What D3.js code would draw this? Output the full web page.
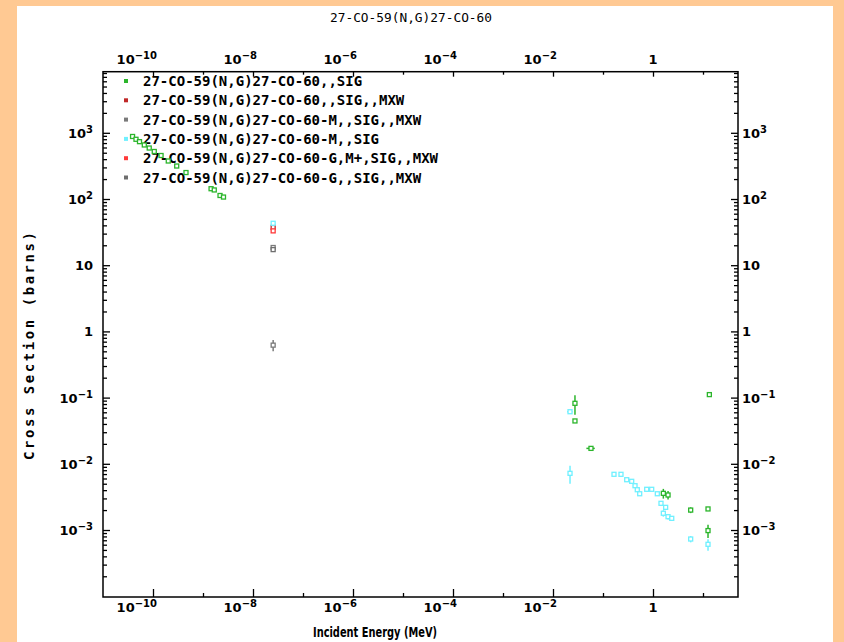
<!DOCTYPE html>
<html>
<head>
<meta charset="utf-8">
<script src="https://cdn.jsdelivr.net/npm/d3@7"></script>
<style>
  body { margin: 0; background: #ffc993; }
  svg { display: block; }
</style>
</head>
<body>
<div id="chart"></div>
<script>
// ---- data ----
const chartTitle = "27-CO-59(N,G)27-CO-60";
const xTitle = "Incident Energy (MeV)";
const yTitle = "Cross Section (barns)";

const seriesNames = [
  "27-CO-59(N,G)27-CO-60,,SIG",
  "27-CO-59(N,G)27-CO-60,,SIG,,MXW",
  "27-CO-59(N,G)27-CO-60-M,,SIG,,MXW",
  "27-CO-59(N,G)27-CO-60-M,,SIG",
  "27-CO-59(N,G)27-CO-60-G,M+,SIG,,MXW",
  "27-CO-59(N,G)27-CO-60-G,,SIG,,MXW"
];
const seriesColors = ["#2bb52b", "#c02828", "#7a7a7a", "#6ff0ff", "#ff3a3a", "#6e6e6e"];

// series 1 : 27-CO-60,,SIG
const sigEnergy = [3.9e-11, 4.57e-11, 5.37e-11, 6.7e-11, 8.4e-11, 1.06e-10, 1.45e-10, 2.02e-10, 2.98e-10, 4.57e-10,
  1.45e-9, 1.68e-9, 2.19e-9, 2.57e-9,
  0.0275, 0.0275, 0.0575, 13.4, 1.61, 2.0, 5.67, 12.6, 12.6];
const sigValue = [880, 798, 735, 655, 589, 522, 454, 375, 315, 251,
  143, 137, 113, 107,
  0.082, 0.0444, 0.0171, 0.111, 0.00358, 0.00338, 0.0020, 0.00208, 0.00098];
const sigValueErr = [0, 0, 0, 0, 0, 0, 0, 0, 0, 0, 0, 0, 0, 0,
  0.027, 0, 0, 0, 0.0006, 0.0005, 0.0002, 0.0001, 0.00022];
const sigEnergyErr = [0, 0, 0, 0, 0, 0, 0, 0, 0, 0, 0, 0, 0, 0,
  0.0025, 0, 0.011, 0, 0, 0, 0, 0, 0];

// series 2 : 27-CO-60,,SIG,,MXW
const mxwEnergy = [2.53e-8];
const mxwValue = [37.2];

// series 3 : 27-CO-60-M,,SIG,,MXW
const mMxwEnergy = [2.53e-8, 2.53e-8];
const mMxwValue = [18.5, 0.62];
const mMxwValueErr = [0, 0.12];

// series 4 : 27-CO-60-M,,SIG
const mSigEnergy = [2.53e-8, 0.0219, 0.0219, 0.166, 0.229, 0.298, 0.375, 0.437, 0.485, 0.542,
  0.748, 0.942, 1.22, 1.445, 1.79, 1.61, 2.0, 2.37, 5.67, 12.6];
const mSigValue = [43, 0.0612, 0.00718, 0.00694, 0.00694, 0.00575, 0.00544, 0.00467, 0.00406, 0.00353,
  0.00412, 0.00412, 0.00353, 0.00253, 0.00220, 0.00179, 0.00159, 0.00150, 0.000731, 0.000608];
const mSigValueErr = [0, 0, 0.0022, 0, 0, 0, 0, 0, 0, 0,
  0, 0, 0, 0, 0, 0.0002, 0.00015, 0, 0.00008, 0.00012];
const mSigEnergyErr = [0, 0.0027, 0, 0, 0, 0, 0, 0, 0, 0,
  0, 0, 0, 0, 0, 0, 0, 0, 0, 0];

// series 5 : 27-CO-60-G,M+,SIG,,MXW
const gmMxwEnergy = [2.53e-8];
const gmMxwValue = [33];

// series 6 : 27-CO-60-G,,SIG,,MXW
const gMxwEnergy = [2.53e-8];
const gMxwValue = [17.2];

const xMajorTicks = [1e-10, 1e-8, 1e-6, 1e-4, 1e-2, 1];
const xMinorTicks = [1e-9, 1e-7, 1e-5, 1e-3, 1e-1, 10];
const yMajorTicks = [1e-3, 1e-2, 1e-1, 1, 10, 100, 1000];

// ---- build point tables ----
const toPoints = (E, V, vErr, eErr) =>
  E.map((e, i) => ({ e, v: V[i], dv: vErr ? vErr[i] : 0, de: eErr ? eErr[i] : 0 }));

const allSeries = [
  toPoints(sigEnergy, sigValue, sigValueErr, sigEnergyErr),
  toPoints(mxwEnergy, mxwValue),
  toPoints(mMxwEnergy, mMxwValue, mMxwValueErr),
  toPoints(mSigEnergy, mSigValue, mSigValueErr, mSigEnergyErr),
  toPoints(gmMxwEnergy, gmMxwValue),
  toPoints(gMxwEnergy, gMxwValue)
];

const width = 844, height = 642;
const plotLeft = 103, plotRight = 738, plotTop = 71.7, plotBottom = 597;

const xScale = d3.scaleLog().domain([1e-11, Math.pow(10, 1.7)]).range([plotLeft, plotRight]);
const yScale = d3.scaleLog().domain([Math.pow(10, -4.012), Math.pow(10, 3.923)]).range([plotBottom, plotTop]);

const yMinorTicks = [];
for (let p = -4; p <= 3; p++) {
  for (let m = 2; m <= 9; m++) {
    const v = m * Math.pow(10, p);
    if (v < yScale.domain()[1]) yMinorTicks.push(v);
  }
}

const svg = d3.select("#chart")
  .append("svg")
  .attr("width", width)
  .attr("height", height)
  .attr("viewBox", [0, 0, width, height]);

svg.append("rect").attr("width", width).attr("height", height).attr("fill", "#ffc993");
svg.append("rect").attr("x", 17).attr("y", 6).attr("width", 816).attr("height", 636).attr("fill", "#fff");

// ---- axes (ticks only, pointing inwards) ----
const addAxis = (axis, tx, ty) => {
  const g = svg.append("g")
    .attr("transform", `translate(${tx},${ty})`)
    .call(axis);
  g.select(".domain").remove();
  g.selectAll("line").attr("stroke", "#000").attr("stroke-width", 1.3);
  return g;
};

addAxis(d3.axisBottom(xScale).tickValues(xMajorTicks).tickSize(-8).tickFormat(""), 0, plotBottom);
addAxis(d3.axisBottom(xScale).tickValues(xMinorTicks).tickSize(-4).tickFormat(""), 0, plotBottom);
addAxis(d3.axisTop(xScale).tickValues(xMajorTicks).tickSize(-5).tickFormat(""), 0, plotTop);
addAxis(d3.axisTop(xScale).tickValues(xMinorTicks).tickSize(-3).tickFormat(""), 0, plotTop);
addAxis(d3.axisLeft(yScale).tickValues(yMajorTicks).tickSize(-7).tickFormat(""), plotLeft, 0);
addAxis(d3.axisLeft(yScale).tickValues(yMinorTicks).tickSize(-4).tickFormat(""), plotLeft, 0);
addAxis(d3.axisRight(yScale).tickValues(yMajorTicks).tickSize(-7).tickFormat(""), plotRight, 0);
addAxis(d3.axisRight(yScale).tickValues(yMinorTicks).tickSize(-4).tickFormat(""), plotRight, 0);

svg.append("rect")
  .attr("x", plotLeft).attr("y", plotTop)
  .attr("width", plotRight - plotLeft).attr("height", plotBottom - plotTop)
  .attr("fill", "none").attr("stroke", "#000").attr("stroke-width", 1.5);

// power-of-ten label with superscript
const powLabel = (sel, v) => {
  const p = Math.round(Math.log10(v));
  if (p === 0) { sel.text("1"); return; }
  if (p === 1) { sel.text("10"); return; }
  sel.append("tspan").text("10");
  sel.append("tspan").attr("dy", -5).attr("font-size", 10).text(p < 0 ? "\u2212" + (-p) : String(p));
};

const labelFont = "DejaVu Sans, Verdana, sans-serif";

[plotBottom + 15, plotTop - 8].forEach(yy => {
  xMajorTicks.forEach(v => {
    const p = Math.round(Math.log10(v));
    const t = svg.append("text")
      .attr("x", p === 0 ? xScale(v) : xScale(v) + 4)
      .attr("y", yy)
      .attr("text-anchor", p === 0 ? "middle" : "end")
      .attr("font-family", labelFont)
      .attr("font-weight", "bold")
      .attr("font-size", 13);
    powLabel(t, v);
  });
});

yMajorTicks.forEach(v => {
  const l = svg.append("text")
    .attr("x", plotLeft - 10).attr("y", yScale(v) + 5)
    .attr("text-anchor", "end")
    .attr("font-family", labelFont).attr("font-weight", "bold").attr("font-size", 13);
  powLabel(l, v);
  const r = svg.append("text")
    .attr("x", plotRight + 4).attr("y", yScale(v) + 5)
    .attr("text-anchor", "start")
    .attr("font-family", labelFont).attr("font-weight", "bold").attr("font-size", 13);
  powLabel(r, v);
});

// ---- titles ----
svg.append("text")
  .attr("x", 411).attr("y", 22)
  .attr("text-anchor", "middle")
  .attr("font-family", "DejaVu Sans Mono, monospace")
  .attr("font-size", 13)
  .attr("textLength", 162)
  .attr("lengthAdjust", "spacingAndGlyphs")
  .text(chartTitle);

svg.append("text")
  .attr("x", 375).attr("y", 637)
  .attr("text-anchor", "middle")
  .attr("font-family", "DejaVu Sans Condensed, DejaVu Sans, sans-serif")
  .attr("font-weight", "bold")
  .attr("font-size", 14)
  .attr("textLength", 124)
  .attr("lengthAdjust", "spacingAndGlyphs")
  .text(xTitle);

svg.append("text")
  .attr("transform", "translate(34,346) rotate(-90)")
  .attr("text-anchor", "middle")
  .attr("font-family", "DejaVu Sans Mono, monospace")
  .attr("font-weight", "bold")
  .attr("font-size", 14)
  .attr("textLength", 228)
  .text(yTitle);

// ---- legend ----
seriesNames.forEach((name, i) => {
  const cy = 81 + i * 19.3;
  svg.append("rect")
    .attr("x", 124).attr("y", cy - 2).attr("width", 4).attr("height", 4)
    .attr("fill", seriesColors[i]);
  svg.append("text")
    .attr("x", 143).attr("y", cy + 5)
    .attr("font-family", "DejaVu Sans Mono, monospace")
    .attr("font-weight", "bold")
    .attr("font-size", 14)
    .text(name);
});

// ---- data points with error bars ----
allSeries.forEach((pts, i) => {
  const color = seriesColors[i];
  const g = svg.append("g");

  g.selectAll(".ey")
    .data(pts.filter(d => d.dv > 0))
    .join("line")
    .attr("class", "ey")
    .attr("x1", d => xScale(d.e)).attr("x2", d => xScale(d.e))
    .attr("y1", d => yScale(d.v + d.dv)).attr("y2", d => yScale(Math.max(d.v - d.dv, 1e-6)))
    .attr("stroke", color).attr("stroke-width", 1.5);

  g.selectAll(".ex")
    .data(pts.filter(d => d.de > 0))
    .join("line")
    .attr("class", "ex")
    .attr("x1", d => xScale(d.e - d.de)).attr("x2", d => xScale(d.e + d.de))
    .attr("y1", d => yScale(d.v)).attr("y2", d => yScale(d.v))
    .attr("stroke", color).attr("stroke-width", 1.5);

  g.selectAll(".pt")
    .data(pts)
    .join("rect")
    .attr("class", "pt")
    .attr("x", d => xScale(d.e) - 2)
    .attr("y", d => yScale(d.v) - 2)
    .attr("width", 4).attr("height", 4)
    .attr("fill", "#fff")
    .attr("stroke", color)
    .attr("stroke-width", 1.3);
});
</script>
</body>
</html>
